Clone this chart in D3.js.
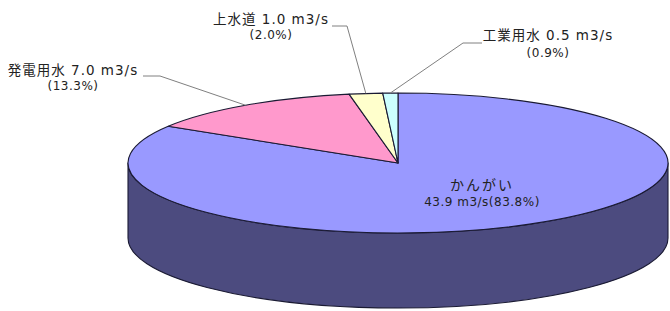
<!DOCTYPE html>
<html><head><meta charset="utf-8">
<script src="https://cdn.jsdelivr.net/npm/d3@7"></script>
<style>html,body{margin:0;padding:0;background:#fff;}svg{display:block;}</style>
</head><body>
<svg id="chart" width="670" height="311"></svg>
<script>
// ---- data ----
const categories = ["かんがい", "発電用水", "上水道", "工業用水"];
const flows = [43.9, 7.0, 1.0, 0.5];          // m3/s
const percents = [83.8, 13.3, 2.0, 0.9];       // %
// ---- styles ----
const topColors = ["#9999ff", "#ff99cc", "#ffffcc", "#ccffff"];
const sideColors = ["#4c4b7f", "#804d66", "#808066", "#668080"];
// label layout: [text centre x, line1 centre y, line2 centre y, elbow start x, elbow end x, elbow y]
const labelLayout = [
  {inside: true, x: 482, y1: 185, y2: 202},
  {x: 73, y1: 70, y2: 86, ex0: 143, ex1: 160, ey: 76},
  {x: 271, y1: 19, y2: 35, ex0: 332, ex1: 347, ey: 26},
  {x: 548, y1: 35, y2: 53, ex0: 482, ex1: 463, ey: 43}
];

const cx = 398, cy = 163, rx = 270, ry = 70, depth = 75;
const svg = d3.select("#chart");
const pie = d3.pie().sort(null).value((d, i) => percents[i]);
const arcs = pie(categories);

const pt = (a, dy = 0) => [cx + rx * Math.sin(a), cy - ry * Math.cos(a) + dy];

// side walls (front half only)
const sideG = svg.append("g");
arcs.forEach((d, i) => {
  const a0 = Math.max(d.startAngle, Math.PI / 2), a1 = Math.min(d.endAngle, 3 * Math.PI / 2);
  if (a0 >= a1) return;
  const large = (a1 - a0) > Math.PI ? 1 : 0;
  const p0 = pt(a0), p1 = pt(a1), q1 = pt(a1, depth), q0 = pt(a0, depth);
  const path = `M${p0}A${rx},${ry} 0 ${large} 1 ${p1}L${q1}A${rx},${ry} 0 ${large} 0 ${q0}Z`;
  sideG.append("path").attr("d", path).attr("fill", sideColors[i])
    .attr("stroke", "#1a1a33").attr("stroke-width", 1.1).attr("stroke-linejoin", "round");
});

// top faces
const topG = svg.append("g");
arcs.forEach((d, i) => {
  const large = (d.endAngle - d.startAngle) > Math.PI ? 1 : 0;
  const path = `M${cx},${cy}L${pt(d.startAngle)}A${rx},${ry} 0 ${large} 1 ${pt(d.endAngle)}Z`;
  topG.append("path").attr("d", path).attr("fill", topColors[i])
    .attr("stroke", "#1a1a33").attr("stroke-width", 1.1).attr("stroke-linejoin", "round");
});

// labels
const font = "'DejaVu Sans', 'Noto Sans CJK JP', sans-serif";
const labG = svg.append("g").attr("font-family", font).attr("fill", "#222");
arcs.forEach((d, i) => {
  const L = labelLayout[i];
  const line1 = L.inside ? categories[i] : `${categories[i]} ${flows[i].toFixed(1)} m3/s`;
  const line2 = L.inside ? `${flows[i].toFixed(1)} m3/s(${percents[i].toFixed(1)}%)` : `(${percents[i].toFixed(1)}%)`;
  labG.append("text").attr("x", L.x).attr("y", L.y1).attr("dy", "0.36em")
    .attr("text-anchor", "middle").attr("font-size", L.inside ? 14 : 13.5)
    .attr("letter-spacing", L.inside ? 2 : 1).text(line1);
  labG.append("text").attr("x", L.x).attr("y", L.y2).attr("dy", "0.36em")
    .attr("text-anchor", "middle").attr("font-size", 12)
    .attr("letter-spacing", 0.5).text(line2);
  if (!L.inside) {
    const mid = (d.startAngle + d.endAngle) / 2;
    const a = pt(mid);
    svg.append("polyline")
      .attr("points", `${L.ex0},${L.ey} ${L.ex1},${L.ey} ${a[0]},${a[1]}`)
      .attr("fill", "none").attr("stroke", "#808080").attr("stroke-width", 1);
  }
});
</script>
</body></html>
